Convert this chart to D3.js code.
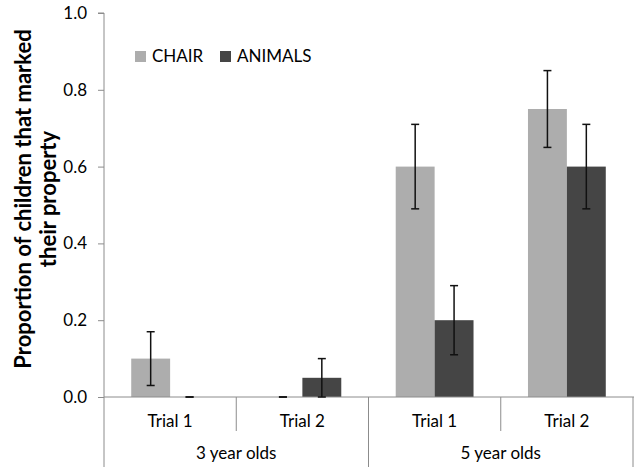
<!DOCTYPE html>
<html>
<head>
<meta charset="utf-8">
<script src="https://cdn.jsdelivr.net/npm/d3@7"></script>
<style>
  body { margin: 0; background: #fff; }
  svg text { font-family: Lato, "Open Sans", sans-serif; fill: #000; }
</style>
</head>
<body>
<svg id="chart" width="634" height="467"></svg>
<script>
// Age groups, trials within each group, and the two series
const groups = ["3 year olds", "5 year olds"];
const trials = ["Trial 1", "Trial 2"];
const seriesNames = ["CHAIR", "ANIMALS"];
const seriesColors = ["#adadad", "#454545"];

// Proportions per (group, trial), in order: 3yo T1, 3yo T2, 5yo T1, 5yo T2
const chairValues   = [0.10, 0.00, 0.60, 0.75];
const animalsValues = [0.00, 0.05, 0.20, 0.60];
// Error bar half-widths
const chairErrors   = [0.07, 0.00, 0.11, 0.10];
const animalsErrors = [0.00, 0.05, 0.09, 0.11];

const yTicks = [0, 0.2, 0.4, 0.6, 0.8, 1.0];

const svg = d3.select("#chart");
const margin = { left: 104, right: 0, top: 13, bottom: 70 };
const width = 634, height = 467;
const plotBottom = height - margin.bottom;
const labelSize = 17;

const cats = [];
groups.forEach(g => trials.forEach(t => cats.push(g + "|" + t)));

const x0 = d3.scaleBand().domain(cats).range([margin.left, width - 1]).paddingInner(0).paddingOuter(0);
const x1 = d3.scaleBand().domain(seriesNames).range([0, x0.bandwidth()]).paddingInner(0).paddingOuter(0.7);
const y = d3.scaleLinear().domain([0, 1]).range([plotBottom, margin.top]);

const series = [
  { name: "CHAIR", values: chairValues, errors: chairErrors, color: seriesColors[0] },
  { name: "ANIMALS", values: animalsValues, errors: animalsErrors, color: seriesColors[1] }
];

// Bars
series.forEach(s => {
  svg.append("g").selectAll("rect")
    .data(cats.map((c, i) => ({ c, v: s.values[i] })))
    .join("rect")
    .attr("x", d => x0(d.c) + x1(s.name))
    .attr("width", x1.bandwidth())
    .attr("y", d => y(d.v))
    .attr("height", d => y(0) - y(d.v))
    .attr("fill", s.color);
});

// Y axis
const axisColor = "#8c8c8c";
const yAxis = d3.axisLeft(y).tickValues(yTicks).tickFormat(d3.format(".1f")).tickSize(6).tickPadding(11);
const ya = svg.append("g").attr("transform", `translate(${margin.left},0)`).call(yAxis);
ya.select(".domain").attr("stroke", axisColor).attr("d", `M-6,${margin.top}H0V${plotBottom}`);
ya.selectAll(".tick line").attr("stroke", axisColor);
ya.selectAll(".tick text").attr("font-size", labelSize).attr("font-family", "Lato, sans-serif").attr("fill", "#000");

// X axis baseline and category dividers
svg.append("line").attr("x1", margin.left).attr("x2", width).attr("y1", y(0)).attr("y2", y(0))
  .attr("stroke", axisColor);
cats.forEach((c, i) => {
  const xe = x0(c);
  const isGroupEdge = i % trials.length === 0;
  svg.append("line").attr("x1", xe).attr("x2", xe).attr("y1", y(0))
    .attr("y2", isGroupEdge ? height : 431)
    .attr("stroke", axisColor);
});
svg.append("line").attr("x1", width - 1).attr("x2", width - 1).attr("y1", y(0)).attr("y2", height)
  .attr("stroke", axisColor);

// Trial labels
svg.append("g").selectAll("text").data(cats).join("text")
  .attr("x", d => x0(d) + x0.bandwidth() / 2)
  .attr("y", 427)
  .attr("text-anchor", "middle")
  .attr("font-size", labelSize)
  .text(d => d.split("|")[1]);

// Group labels
svg.append("g").selectAll("text").data(groups).join("text")
  .attr("x", g => x0(g + "|" + trials[0]) + x0.bandwidth() * trials.length / 2)
  .attr("y", 459)
  .attr("text-anchor", "middle")
  .attr("font-size", labelSize)
  .text(g => g);

// Error bars
series.forEach(s => {
  const g = svg.append("g").attr("stroke", "#111").attr("stroke-width", 1.5);
  cats.forEach((c, i) => {
    const cx = x0(c) + x1(s.name) + x1.bandwidth() / 2;
    const lo = Math.max(0, s.values[i] - s.errors[i]);
    const hi = s.values[i] + s.errors[i];
    g.append("line").attr("x1", cx).attr("x2", cx).attr("y1", y(lo)).attr("y2", y(hi));
    g.append("line").attr("x1", cx - 4).attr("x2", cx + 4).attr("y1", y(hi)).attr("y2", y(hi));
    g.append("line").attr("x1", cx - 4).attr("x2", cx + 4).attr("y1", y(lo)).attr("y2", y(lo));
  });
});

// Legend
const legend = svg.append("g").attr("transform", "translate(135,50)");
const legendX = [0, 85];
series.forEach((s, i) => {
  legend.append("rect").attr("x", legendX[i]).attr("y", 1).attr("width", 11).attr("height", 11).attr("fill", s.color);
  legend.append("text").attr("x", legendX[i] + 17).attr("y", 12).attr("font-size", labelSize).text(s.name);
});

// Y axis title
svg.append("text")
  .attr("transform", `translate(31,199) rotate(-90)`)
  .attr("text-anchor", "middle")
  .attr("font-size", 22)
  .attr("font-weight", "bold")
  .selectAll("tspan")
  .data(["Proportion of children that marked", "their property"])
  .join("tspan")
  .attr("x", 0)
  .attr("dy", (d, i) => i === 0 ? 0 : 25)
  .text(d => d);
</script>
</body>
</html>
